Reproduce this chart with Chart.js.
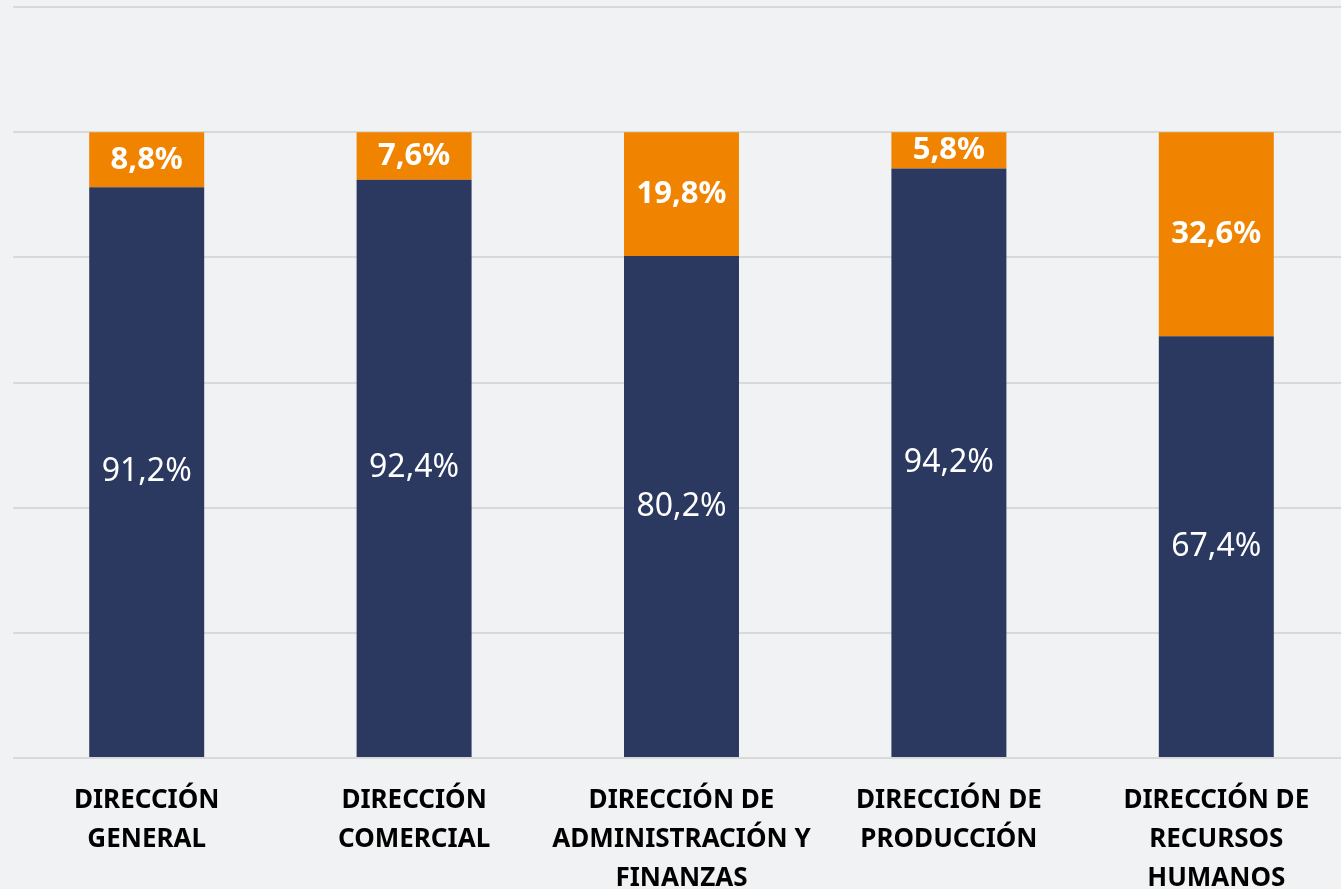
<!DOCTYPE html>
<html>
<head>
<meta charset="utf-8">
<script src="https://cdn.jsdelivr.net/npm/chart.js@4/dist/chart.umd.min.js"></script>
<style>
  html, body { margin: 0; padding: 0; background: #f1f2f4; overflow: hidden; }
  #wrap { position: absolute; left: 0; top: 0; }
</style>
</head>
<body>
<div id="wrap"><canvas id="chart" width="1352" height="913"></canvas></div>
<script>
const categories = [
  ["DIRECCIÓN", "GENERAL"],
  ["DIRECCIÓN", "COMERCIAL"],
  ["DIRECCIÓN DE", "ADMINISTRACIÓN Y", "FINANZAS"],
  ["DIRECCIÓN DE", "PRODUCCIÓN"],
  ["DIRECCIÓN DE", "RECURSOS", "HUMANOS"]
];
const navyValues = [91.2, 92.4, 80.2, 94.2, 67.4];
const orangeValues = [8.8, 7.6, 19.8, 5.8, 32.6];

const NAVY = "#2b3961";
const ORANGE = "#f08300";

// etiquetas dentro de cada segmento
const barLabels = {
  id: "barLabels",
  afterDatasetsDraw(chart) {
    const ctx = chart.ctx;
    chart.data.datasets.forEach((ds, i) => {
      const meta = chart.getDatasetMeta(i);
      meta.data.forEach((bar, j) => {
        const { x, y, base } = bar.getProps(["x", "y", "base"], true);
        const txt = ds.data[j].toFixed(1).replace(".", ",") + "%";
        ctx.save();
        ctx.fillStyle = "#fff";
        ctx.textAlign = "center";
        ctx.textBaseline = "middle";
        ctx.font = ds.labelFont;
        ctx.fillText(txt, x, (y + base) / 2);
        ctx.restore();
      });
    });
  }
};

new Chart(document.getElementById("chart"), {
  type: "bar",
  data: {
    labels: categories,
    datasets: [
      {
        data: navyValues,
        backgroundColor: NAVY,
        labelFont: "32px 'Noto Sans'",
        categoryPercentage: 1,
        barPercentage: 0.43
      },
      {
        data: orangeValues,
        backgroundColor: ORANGE,
        labelFont: "bold 31px 'Noto Sans'",
        categoryPercentage: 1,
        barPercentage: 0.43
      }
    ]
  },
  options: {
    responsive: false,
    animation: false,
    layout: { padding: { left: 13, top: 7, right: 2, bottom: 0 } },
    plugins: {
      legend: { display: false },
      tooltip: { enabled: false }
    },
    scales: {
      x: {
        stacked: true,
        grid: { display: false },
        border: { display: false },
        ticks: {
          color: "#000",
          autoSkip: false,
          maxRotation: 0,
          minRotation: 0,
          padding: 15,
          font: { family: "'Noto Sans'", size: 26, weight: "bold", lineHeight: "39px" }
        }
      },
      y: {
        stacked: true,
        min: 0,
        max: 120,
        border: { display: false },
        grid: { color: "#d9d9d9", lineWidth: 2, drawTicks: false },
        ticks: { display: false, stepSize: 20 }
      }
    }
  },
  plugins: [barLabels]
});
</script>
</body>
</html>
